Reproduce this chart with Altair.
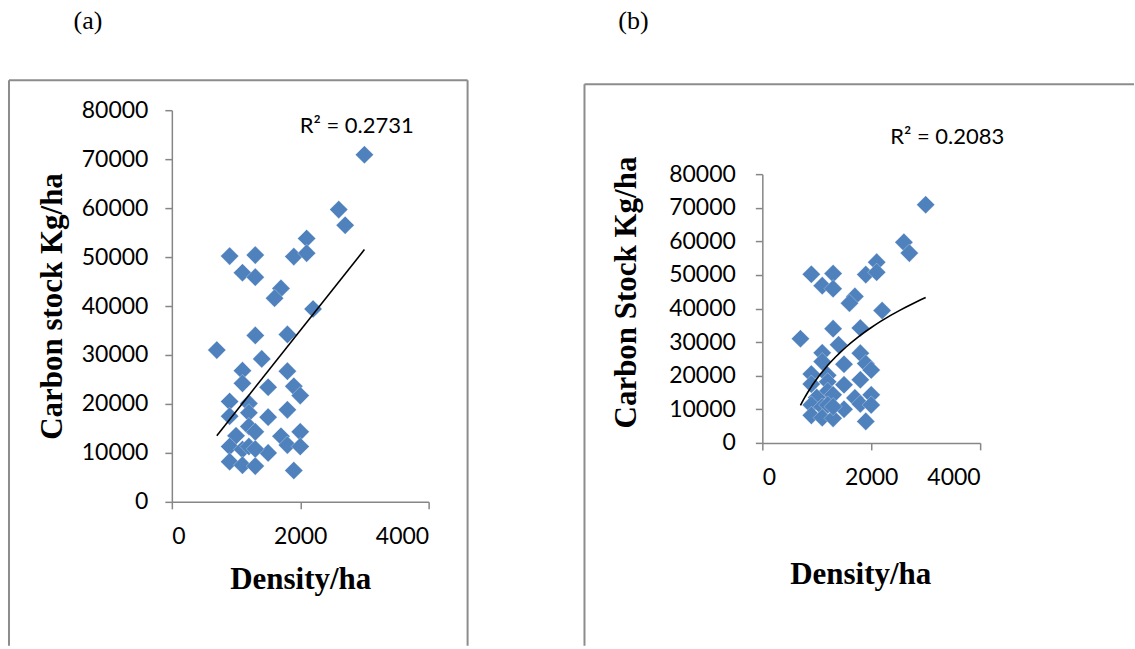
import altair as alt
import pandas as pd

# ---- data ----
density = [3000, 2600, 2700, 900, 1300, 1100, 1300, 1900, 2100, 2100, 1700, 1600, 2200,
           1300, 1800, 700, 1400, 1100, 1800, 1100, 1500, 1900, 2000, 900, 1200, 1800,
           900, 1200, 1500, 1200, 1000, 1300, 1700, 2000, 900, 1100, 1200, 1500, 1800,
           2000, 900, 1100, 1300, 1900, 1300]
carbon = [70900, 59700, 56500, 50200, 50400, 46800, 45900, 50100, 53800, 50800, 43600,
          41600, 39400, 34000, 34200, 31000, 29200, 26800, 26700, 24200, 23400, 23600,
          21700, 20500, 20100, 18800, 17500, 18200, 17300, 15400, 13500, 14300, 13400,
          14300, 11300, 10700, 11300, 10000, 11600, 11300, 8200, 7500, 7300, 6400, 10800]
panel_labels = ["(a)", "(b)"]
r2_labels = ["R\u00b2 = 0.2731", "R\u00b2 = 0.2083"]
y_titles = ["Carbon stock Kg/ha", "Carbon Stock Kg/ha"]
x_title = "Density/ha"
fit_methods = ["linear", "log"]
y_ticks = [0, 10000, 20000, 30000, 40000, 50000, 60000, 70000, 80000]
x_ticks = [0, 2000, 4000]

df = pd.DataFrame({"density": density, "carbon": carbon})
one = pd.DataFrame({"k": [0]})

BLUE = "#4F81BD"
AXIS_GRAY = "#868686"
FRAME_GRAY = "#8c8c8c"
SERIF = "Liberation Serif"
SANS = "Lato"


def panel(idx, w, h, y_range, heading_xy, r2_xy, frame, right_rule, ylab_pad, xlab_pad,
          ytitle_pad, xtitle_pad, ytitle_y=None, xtitle_x=None):
    yaxis = dict(values=y_ticks, title=y_titles[idx], labelPadding=ylab_pad,
                 titlePadding=ytitle_pad, format="d")
    if ytitle_y is not None:
        yaxis["titleY"] = ytitle_y
    xaxis = dict(values=x_ticks, title=x_title, labelPadding=xlab_pad,
                 titlePadding=xtitle_pad, format="d")
    if xtitle_x is not None:
        xaxis["titleX"] = xtitle_x

    yscale = dict(domain=[0, 80000], nice=False)
    if y_range is not None:
        yscale["range"] = y_range

    base = alt.Chart(df)
    pts = base.mark_point(shape="diamond", filled=True, size=330, color=BLUE, opacity=1,
                          stroke="white", strokeWidth=0.5, strokeOpacity=0.6).encode(
        x=alt.X("density:Q", scale=alt.Scale(domain=[0, 4000], nice=False),
                axis=alt.Axis(**xaxis)),
        y=alt.Y("carbon:Q", scale=alt.Scale(**yscale), axis=alt.Axis(**yaxis)),
    )
    fit = base.transform_regression("density", "carbon", method=fit_methods[idx],
                                    extent=[700, 3000]).mark_line(
        color="black", strokeWidth=1.6).encode(x="density:Q", y="carbon:Q")

    heading = alt.Chart(one).mark_text(text=panel_labels[idx], font=SERIF, fontSize=26,
                                       color="black", baseline="middle").encode(
        x=alt.value(heading_xy[0]), y=alt.value(heading_xy[1]))
    r2 = alt.Chart(one).mark_text(text=r2_labels[idx], font=SANS, fontSize=22,
                                  color="black", baseline="middle").encode(
        x=alt.value(r2_xy[0]), y=alt.value(r2_xy[1]))

    L, T, R, B = frame
    layers = [
        alt.Chart(one).mark_rule(color=FRAME_GRAY, strokeWidth=2).encode(
            x=alt.value(L), x2=alt.value(R), y=alt.value(T)),
        alt.Chart(one).mark_rule(color=FRAME_GRAY, strokeWidth=2).encode(
            x=alt.value(L), y=alt.value(T), y2=alt.value(B)),
    ]
    if right_rule:
        layers.append(alt.Chart(one).mark_rule(color=FRAME_GRAY, strokeWidth=2).encode(
            x=alt.value(R), y=alt.value(T), y2=alt.value(B)))
    layers += [pts, fit, heading, r2]
    return alt.layer(*layers).properties(width=w, height=h)


# both plot origins sit at the same height; panel (b) uses a shorter y range
pa = panel(0, 257, 392, None, heading_xy=(-84, -89), r2_xy=(185, 16),
           frame=(-163, -30, 296, 536), right_rule=True, ylab_pad=17, xlab_pad=17,
           ytitle_pad=13, xtitle_pad=16)
pb = panel(1, 218, 333, [333, 64], heading_xy=(-129, -89), r2_xy=(185, 27),
           frame=(-178, -26, 372, 536), right_rule=False, ylab_pad=20, xlab_pad=17,
           ytitle_pad=26, xtitle_pad=70, ytitle_y=182, xtitle_x=98)

chart = alt.hconcat(pa, pb, spacing=115).properties(
    padding={"left": 8, "top": 8, "right": 0, "bottom": 0},
    background="white",
).configure_view(stroke=None).configure_axis(
    grid=False,
    domainColor=AXIS_GRAY, domainWidth=1.5,
    tickColor=AXIS_GRAY, tickWidth=1.5, tickSize=7,
    labelFont=SANS, labelFontSize=23, labelColor="black",
    titleFont=SERIF, titleFontSize=31, titleFontWeight="bold", titleColor="black",
)

chart.save("out.html", embed_options={"renderer": "svg", "actions": False})
